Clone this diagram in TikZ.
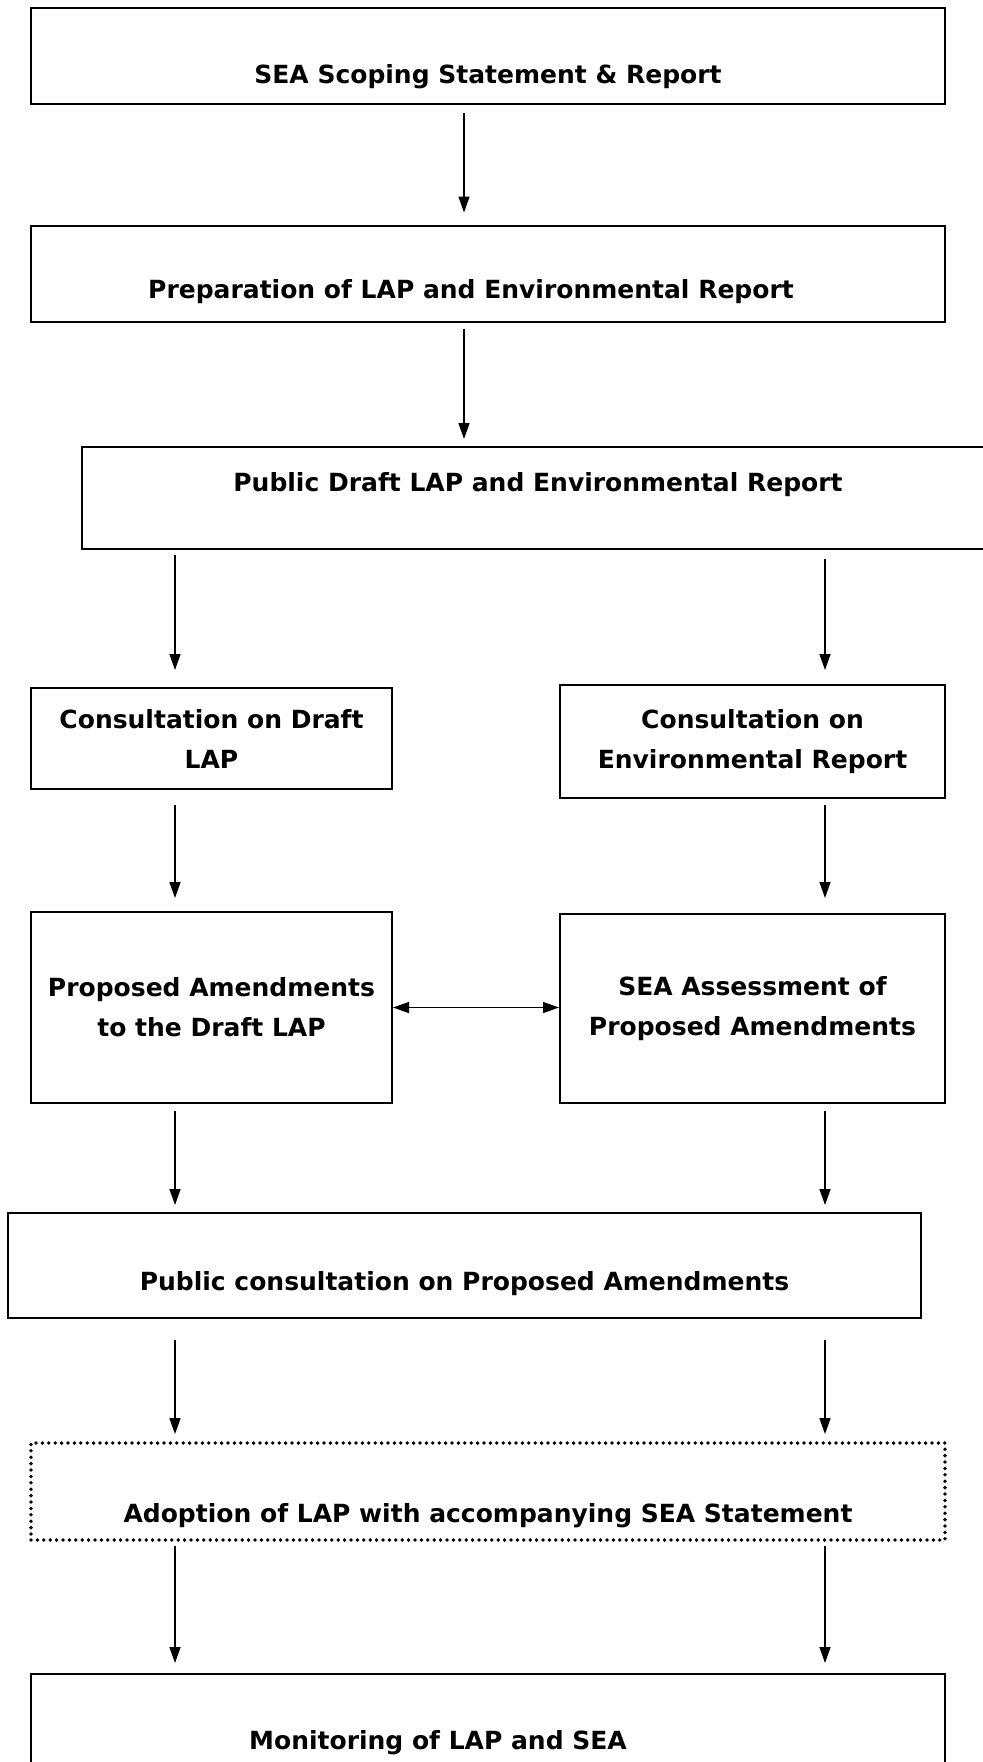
\documentclass[tikz,border=0pt]{standalone}
\usepackage{fontspec}
\setmainfont{DejaVu Sans}
\usetikzlibrary{arrows.meta}
\tikzstyle{rect} = [shape=rectangle, draw, line width=1pt,
		anchor=center, align=center, inner sep=3pt,
		font=\bfseries\fontsize{12.5pt}{20pt}\selectfont]
\tikzstyle{dotrect} = [rect, dash pattern=on 0pt off 3.2pt,
		line cap=round, line width=1.9pt]
\tikzstyle{arr} = [>={Triangle[length=8pt,width=5.5pt]}, ->, line width=0.7pt]

\begin{document}
\begin{tikzpicture}[x=0.5pt, y=-0.5pt]
	\useasboundingbox (0,0) rectangle (982,1762);
	\coordinate (colM) at (464,0);
	\coordinate (colL) at (175,0);
	\coordinate (colR) at (825,0);

	\node[rect, minimum width=457pt, minimum height=48pt, text height=29pt, text depth=2pt]
		(scope) at (488,56) {SEA Scoping Statement \& Report};
	\node[rect, minimum width=457pt, minimum height=48pt, text height=27pt, text depth=2.5pt]
		(prep) at (488,273.5) {Preparation of LAP and Environmental Report\hspace{17pt}};
	\node[rect, minimum width=456pt, minimum height=51pt, text height=10pt, text depth=17pt]
		(pub) at (538,498) {Public Draft LAP and Environmental Report};
	\node[rect, minimum width=180.5pt, minimum height=50.5pt]
		(cdl) at (211.5,738.5) {Consultation on Draft\\LAP};
	\node[rect, minimum width=192.5pt, minimum height=56.5pt]
		(cer) at (752.5,741.5) {Consultation on\\Environmental Report};
	\node[rect, minimum width=180.5pt, minimum height=95.5pt]
		(pam) at (211.5,1007.5) {Proposed Amendments\\to the Draft LAP};
	\node[rect, minimum width=192.5pt, minimum height=94.5pt]
		(sea) at (752.5,1008.5) {SEA Assessment of\\Proposed Amendments};
	\node[rect, minimum width=456.5pt, minimum height=52.5pt, text height=27pt, text depth=2.5pt]
		(pubcons) at (464.5,1265.5) {Public consultation on Proposed Amendments};
	\node[dotrect, minimum width=457pt, minimum height=48.5pt, text height=33pt, text depth=2.5pt]
		(adopt) at (488,1491.5) {Adoption of LAP with accompanying SEA Statement};
	\node[rect, anchor=north, minimum width=457pt, minimum height=60pt, text height=18pt, text depth=3pt]
		(mon) at (488,1673) {Monitoring of LAP and SEA\hspace{50pt}};

	\path [arr, shorten <=4pt, shorten >=6pt] (scope.south -| colM) edge (prep.north -| colM);
	\path [arr, shorten <=3pt, shorten >=3.5pt] (prep.south -| colM) edge (pub.north -| colM);
	\path [arr, shorten <=2.5pt, shorten >=8.5pt] (pub.south -| colL) edge (cdl.north -| colL);
	\path [arr, shorten <=4.5pt, shorten >=7pt] (pub.south -| colR) edge (cer.north -| colR);
	\path [arr, shorten <=7.5pt, shorten >=6.5pt] (cdl.south -| colL) edge (pam.north -| colL);
	\path [arr, shorten <=3pt, shorten >=7.5pt] (cer.south -| colR) edge (sea.north -| colR);
	\path [arr, <->] (pam.east) edge (pam.east -| sea.west);
	\path [arr, shorten <=3.5pt, shorten >=3.5pt] (pam.south -| colL) edge (pubcons.north -| colL);
	\path [arr, shorten <=3.5pt, shorten >=3.5pt] (sea.south -| colR) edge (pubcons.north -| colR);
	\path [arr, shorten <=10.5pt, shorten >=3.5pt] (pubcons.south -| colL) edge (adopt.north -| colL);
	\path [arr, shorten <=10.5pt, shorten >=3.5pt] (pubcons.south -| colR) edge (adopt.north -| colR);
	\path [arr, shorten <=2pt, shorten >=5pt] (adopt.south -| colL) edge (mon.north -| colL);
	\path [arr, shorten <=2pt, shorten >=5pt] (adopt.south -| colR) edge (mon.north -| colR);
\end{tikzpicture}
\end{document}
